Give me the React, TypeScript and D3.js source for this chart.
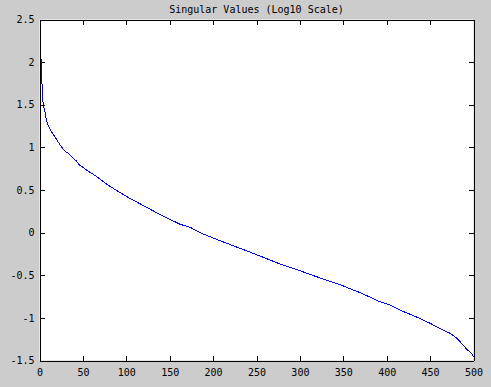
import { useEffect, useRef } from "react";
import * as d3 from "d3";

// singular value index (1..500) and log10 of the value
const sampleIndex = [
  1, 2, 3, 4, 5, 6, 8, 10, 14, 18, 21, 25, 29, 33, 37, 42, 46, 54, 60, 67, 75,
  83, 90, 104, 139, 162, 174, 185, 208, 231, 254, 277, 300, 320, 346, 358, 370,
  392, 404, 415, 427, 438, 450, 461, 473, 481, 488, 493, 498, 500,
];
const logSingularValue = [
  2.22, 1.97, 1.72, 1.53, 1.47, 1.43, 1.32, 1.26, 1.18, 1.12, 1.07, 1.01, 0.96,
  0.93, 0.89, 0.845, 0.795, 0.735, 0.696, 0.649, 0.586, 0.532, 0.488, 0.403,
  0.211, 0.098, 0.06, -0.001, -0.095, -0.184, -0.274, -0.368, -0.447, -0.52,
  -0.609, -0.659, -0.706, -0.81, -0.849, -0.908, -0.958, -1.005, -1.064,
  -1.122, -1.181, -1.24, -1.318, -1.377, -1.416, -1.455,
];
const xTicks = [0, 50, 100, 150, 200, 250, 300, 350, 400, 450, 500];
const yTicks = [-1.5, -1, -0.5, 0, 0.5, 1, 1.5, 2, 2.5];

const WIDTH = 491;
const HEIGHT = 387;
const FONT = "'DejaVu Sans Mono', monospace";

export default function App() {
  const ref = useRef<SVGSVGElement | null>(null);

  useEffect(() => {
    if (!ref.current) return;
    const svg = d3.select(ref.current);
    svg.selectAll("*").remove();

    const x = d3.scaleLinear().domain([0, 500]).range([39.5, 473.5]);
    const y = d3.scaleLinear().domain([-1.5, 2.5]).range([360.5, 19.5]);

    // figure background
    svg.append("rect")
      .attr("width", WIDTH)
      .attr("height", HEIGHT)
      .attr("fill", "#cccccc");

    // axes area
    svg.append("rect")
      .attr("x", x(0))
      .attr("y", y(2.5))
      .attr("width", x(500) - x(0))
      .attr("height", y(-1.5) - y(2.5))
      .attr("fill", "#ffffff");

    // curve (aliased, like the original bitmap render)
    const pts = sampleIndex.map((d, i) => [d, logSingularValue[i]] as [number, number]);
    const line = d3.line<[number, number]>()
      .x(d => x(d[0]))
      .y(d => y(d[1]));
    svg.append("path")
      .datum(pts)
      .attr("d", line)
      .attr("fill", "none")
      .attr("stroke", "#0000ff")
      .attr("stroke-width", 1)
      .attr("shape-rendering", "crispEdges");

    const fmt = (d: d3.NumberValue) => String(d);

    const styleAxis = (g: d3.Selection<SVGGElement, unknown, null, undefined>) => {
      g.attr("font-family", FONT).attr("font-size", 10);
      g.selectAll("path, line").attr("stroke", "#000").attr("shape-rendering", "crispEdges");
      g.selectAll("text").attr("fill", "#000");
    };

    // bottom axis with labels, ticks pointing inward
    svg.append("g")
      .attr("transform", `translate(0,${y(-1.5)})`)
      .call(d3.axisBottom(x).tickValues(xTicks).tickFormat(fmt).tickSizeInner(-5).tickSizeOuter(0).tickPadding(8))
      .call(styleAxis);

    // left axis with labels
    svg.append("g")
      .attr("transform", `translate(${x(0)},0)`)
      .call(d3.axisLeft(y).tickValues(yTicks).tickFormat(fmt).tickSizeInner(-5).tickSizeOuter(0).tickPadding(5))
      .call(styleAxis);

    // top and right: ticks only (box on)
    svg.append("g")
      .attr("transform", `translate(0,${y(2.5)})`)
      .call(d3.axisTop(x).tickValues(xTicks).tickFormat(() => "").tickSizeInner(-5).tickSizeOuter(0))
      .call(styleAxis);

    svg.append("g")
      .attr("transform", `translate(${x(500)},0)`)
      .call(d3.axisRight(y).tickValues(yTicks).tickFormat(() => "").tickSizeInner(-5).tickSizeOuter(0))
      .call(styleAxis);

    // title
    svg.append("text")
      .attr("x", (x(0) + x(500)) / 2)
      .attr("y", 13)
      .attr("text-anchor", "middle")
      .attr("font-family", FONT)
      .attr("font-size", 10)
      .attr("fill", "#000")
      .text("Singular Values (Log10 Scale)");
  }, []);

  return (
    <svg
      ref={ref}
      width={WIDTH}
      height={HEIGHT}
      style={{ position: "absolute", left: 0, top: 0, display: "block" }}
    />
  );
}
